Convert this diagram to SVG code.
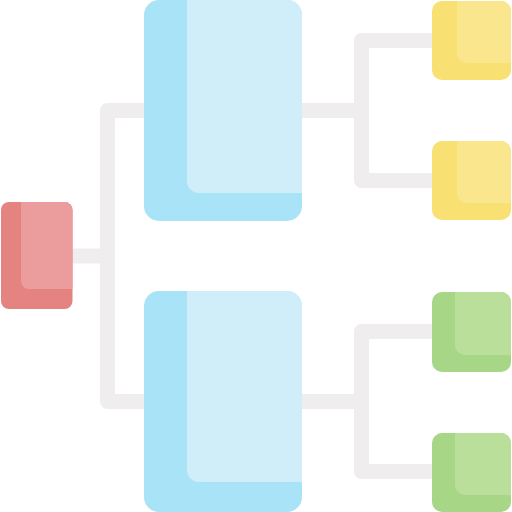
<svg xmlns="http://www.w3.org/2000/svg" width="512" height="512" viewBox="0 0 512 512">
<style>
.c{fill:none;stroke:#efedee;stroke-width:15;stroke-linejoin:round}
.ro{fill:#e48380}.ri{fill:#eb9c9c}
.bo{fill:#a9e3f7}.bi{fill:#d0eefa}
.yo{fill:#f9e073}.yi{fill:#fae68d}
.go{fill:#a6d686}.gi{fill:#badf9b}
</style>
<g id="connectors">
<path class="c" d="M144,110.5 H107.5 V401.5 H144"/>
<path class="c" d="M72,256 H107.5"/>
<path class="c" d="M432,40.5 H361.5 V180.5 H432"/>
<path class="c" d="M302,110.5 H361.5"/>
<path class="c" d="M432,331.5 H361.5 V471.5 H432"/>
<path class="c" d="M302,401.5 H361.5"/>
</g>
<g id="root">
<rect class="ro" x="1" y="202" width="71.5" height="107" rx="8"/>
<path class="ri" d="M21,202 H64.5 A8,8 0 0 1 72.5,210 V289 H29 A8,8 0 0 1 21,281 Z"/>
</g>
<g id="mid-top">
<rect class="bo" x="144" y="0" width="158" height="221" rx="15"/>
<path class="bi" d="M187,0 H287 A15,15 0 0 1 302,15 V193 H199 A12,12 0 0 1 187,181 Z"/>
</g>
<g id="mid-bottom">
<rect class="bo" x="144" y="291" width="158" height="221" rx="15"/>
<path class="bi" d="M187,291 H287 A15,15 0 0 1 302,306 V482 H199 A12,12 0 0 1 187,470 Z"/>
</g>
<g id="leaf-y1">
<rect class="yo" x="432" y="1" width="79" height="79" rx="10"/>
<path class="yi" d="M457,1 H501 A10,10 0 0 1 511,11 V63 H467 A10,10 0 0 1 457,53 Z"/>
</g>
<g id="leaf-y2">
<rect class="yo" x="432" y="141" width="79" height="79" rx="10"/>
<path class="yi" d="M457,141 H501 A10,10 0 0 1 511,151 V203 H467 A10,10 0 0 1 457,193 Z"/>
</g>
<g id="leaf-g1">
<rect class="go" x="432" y="292" width="79" height="80" rx="10"/>
<path class="gi" d="M455,292 H501 A10,10 0 0 1 511,302 V355 H465 A10,10 0 0 1 455,345 Z"/>
</g>
<g id="leaf-g2">
<rect class="go" x="432" y="433" width="79" height="79" rx="10"/>
<path class="gi" d="M455,433 H501 A10,10 0 0 1 511,443 V495 H465 A10,10 0 0 1 455,485 Z"/>
</g>
</svg>
